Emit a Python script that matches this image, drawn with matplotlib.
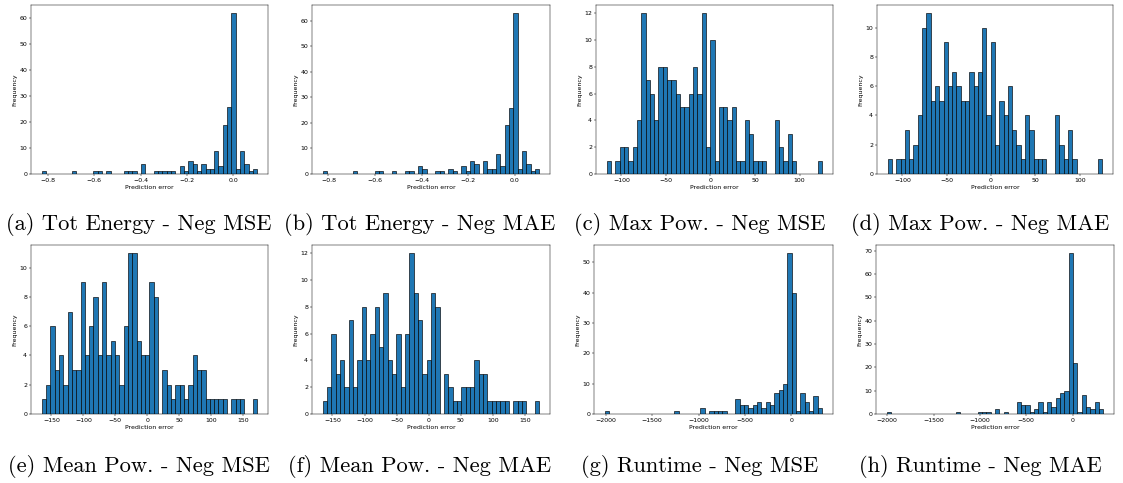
import numpy as np
import matplotlib
matplotlib.use("Agg")
import matplotlib.pyplot as plt

W, H = 1123, 483

# ---- data: 50-bin histogram counts and data ranges ----
captions = ["(a) Tot Energy - Neg MSE", "(b) Tot Energy - Neg MAE",
            "(c) Max Pow. - Neg MSE", "(d) Max Pow. - Neg MAE",
            "(e) Mean Pow. - Neg MSE", "(f) Mean Pow. - Neg MAE",
            "(g) Runtime - Neg MSE", "(h) Runtime - Neg MAE"]

range_a = (-0.826, 0.103)
counts_a = [1, 0, 0, 0, 0, 0, 0, 1, 0, 0,
            0, 0, 1, 1, 0, 1, 0, 0, 0, 1,
            1, 1, 0, 4, 0, 0, 1, 1, 1, 1,
            1, 0, 3, 1, 5, 4, 1, 4, 2, 2,
            9, 3, 19, 26, 62, 2, 9, 4, 1, 2]

range_b = (-0.824, 0.104)
counts_b = [1, 0, 0, 0, 0, 0, 0, 1, 0, 0,
            0, 0, 1, 1, 0, 0, 1, 0, 0, 1,
            1, 0, 3, 2, 0, 0, 1, 1, 0, 2,
            1, 0, 3, 1, 5, 4, 0, 5, 2, 2,
            8, 3, 19, 26, 63, 2, 9, 4, 1, 2]

range_c = (-116.5, 125.5)
counts_c = [1, 0, 1, 2, 2, 1, 2, 4, 12, 7,
            6, 4, 8, 8, 7, 7, 6, 5, 5, 6,
            8, 6, 12, 2, 10, 1, 5, 5, 4, 5,
            1, 1, 4, 3, 1, 1, 1, 0, 0, 4,
            2, 1, 3, 1, 0, 0, 0, 0, 0, 1]

range_d = (-116.5, 125.5)
counts_d = [1, 0, 1, 1, 3, 1, 2, 4, 10, 11,
            5, 6, 5, 9, 6, 7, 6, 5, 5, 7,
            6, 7, 10, 4, 9, 2, 5, 4, 6, 3,
            2, 1, 4, 3, 1, 1, 1, 0, 0, 4,
            2, 1, 3, 1, 0, 0, 0, 0, 0, 1]

range_e = (-165.0, 172.0)
counts_e = [1, 2, 6, 3, 4, 2, 7, 3, 3, 9,
            4, 6, 8, 4, 9, 4, 5, 4, 2, 6,
            11, 11, 5, 4, 4, 9, 8, 0, 3, 2,
            1, 2, 2, 1, 2, 4, 3, 3, 1, 1,
            1, 1, 1, 0, 1, 1, 1, 0, 0, 1]

range_f = (-165.0, 172.0)
counts_f = [1, 2, 6, 3, 4, 2, 7, 2, 4, 8,
            4, 6, 8, 5, 9, 4, 3, 6, 2, 6,
            12, 9, 7, 3, 4, 9, 8, 0, 3, 2,
            1, 1, 2, 2, 2, 4, 3, 3, 1, 1,
            1, 1, 1, 0, 1, 1, 1, 0, 0, 1]

range_g = (-2010.0, 330.0)
counts_g = [1, 0, 0, 0, 0, 0, 0, 0, 0, 0,
            0, 0, 0, 0, 0, 0, 1, 0, 0, 0,
            0, 0, 2, 0, 1, 1, 1, 1, 0, 0,
            5, 3, 3, 2, 3, 4, 2, 4, 3, 7,
            8, 10, 53, 40, 1, 7, 4, 1, 6, 2]

range_h = (-2005.0, 330.0)
counts_h = [1, 0, 0, 0, 0, 0, 0, 0, 0, 0,
            0, 0, 0, 0, 0, 0, 1, 0, 0, 0,
            0, 1, 1, 1, 0, 2, 0, 1, 0, 0,
            5, 4, 4, 1, 2, 5, 1, 5, 3, 7,
            9, 10, 69, 22, 1, 8, 3, 2, 5, 2]

ranges = [range_a, range_b, range_c, range_d, range_e, range_f, range_g, range_h]
counts = [counts_a, counts_b, counts_c, counts_d, counts_e, counts_f, counts_g, counts_h]

# ---- layout (pixel boxes: left, top, right, bottom) ----
boxes = [(31, 5, 268, 174), (312, 5, 550, 174), (596, 5, 833, 174), (877, 5, 1113, 174),
         (31, 245, 268, 414), (312, 245, 550, 414), (594, 245, 833, 414), (876, 245, 1114, 414)]
col_centers = [139, 420, 700, 980]
caption_baselines = [230, 472]

fig = plt.figure(figsize=(W / 100, H / 100), dpi=100)
fs = 4.5
for i, (box, rng, cnt) in enumerate(zip(boxes, ranges, counts)):
    l, t, r, b = box
    ax = fig.add_axes([l / W, 1 - b / H, (r - l) / W, (b - t) / H])
    edges = np.linspace(rng[0], rng[1], len(cnt) + 1)
    centers = (edges[:-1] + edges[1:]) / 2
    ax.hist(centers, bins=edges, weights=cnt, color="#1f77b4",
            edgecolor="black", linewidth=0.45)
    ax.set_xlabel("Prediction error", fontsize=fs, labelpad=1.2)
    ax.set_ylabel("Frequency", fontsize=fs, labelpad=1.5)
    ax.tick_params(labelsize=fs, length=1.6, width=0.35, pad=1.2)
    for s in ax.spines.values():
        s.set_linewidth(0.35)
    fig.text(col_centers[i % 4] / W, 1 - caption_baselines[i // 4] / H, captions[i],
             ha="center", va="baseline", fontsize=16.2, family="cmr10")

fig.savefig("out.png", dpi=100)
